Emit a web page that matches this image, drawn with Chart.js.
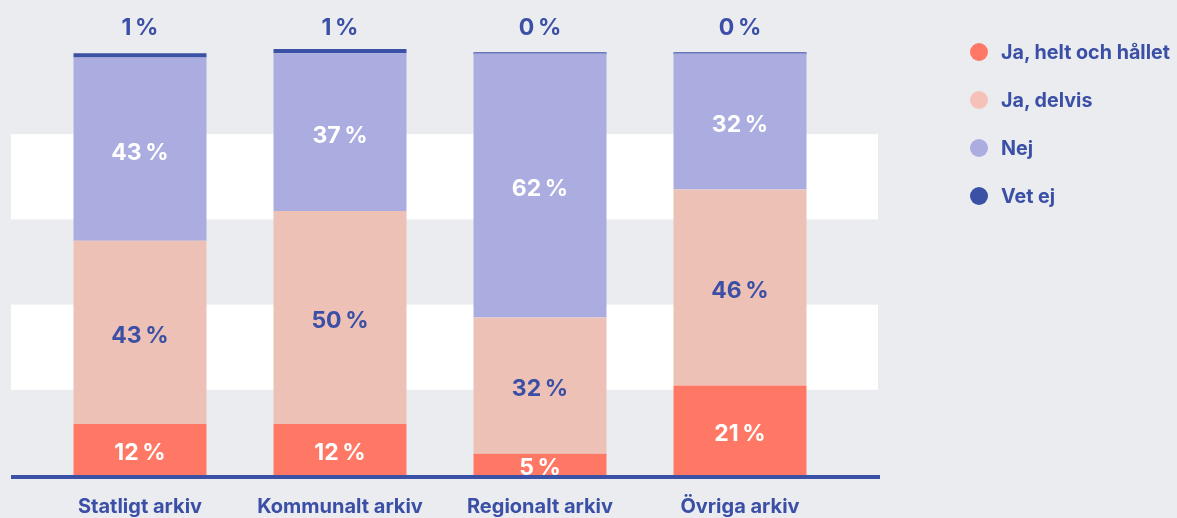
<!DOCTYPE html>
<html>
<head>
<meta charset="utf-8">
<script src="https://cdn.jsdelivr.net/npm/chart.js@4/dist/chart.umd.min.js"></script>
<style>
  html, body { margin: 0; padding: 0; background: #ebecf0; }
  #wrap { position: relative; width: 1177px; height: 518px; }
  #chart { position: absolute; left: 0; top: 0; }
  #legend { position: absolute; left: 970px; top: 41px; margin: 0; padding: 0; list-style: none;
    font-family: Inter, "Noto Sans", sans-serif; font-weight: 700; font-size: 19.7px; color: #3a4fa5; }
  #legend li { height: 48px; display: flex; align-items: flex-start; white-space: nowrap; }
  #legend .dot { width: 18px; height: 18px; border-radius: 50%; margin-right: 13px; margin-top: 2px; flex: none; }
  #legend .txt { line-height: 22px; }
</style>
</head>
<body>
<div id="wrap">
  <canvas id="chart" width="1177" height="518"></canvas>
  <ul id="legend"></ul>
</div>
<script>
(() => {
  const categories = ["Statligt arkiv", "Kommunalt arkiv", "Regionalt arkiv", "Övriga arkiv"];
  const seriesNames = ["Ja, helt och hållet", "Ja, delvis", "Nej", "Vet ej"];
  const jaHelt = [12, 12, 5, 21];
  const jaDelvis = [43, 50, 32, 46];
  const nej = [43, 37, 62, 32];
  const vetEj = [1, 1, 0, 0];
  const bands = [[20, 40], [60, 80]];

  const colors = ["#ff7866", "#edc1b6", "#abacdf", "#3a51a6"];
  const legendColors = ["#ff7866", "#f6c1b8", "#abacdf", "#3a51a6"];
  const labelColors = ["#ffffff", "#3a4fa5", "#ffffff", "#3a4fa5"];
  const textColor = "#3a4fa5";
  const fontFamily = 'Inter, "Noto Sans", sans-serif';

  const legend = document.getElementById("legend");
  seriesNames.forEach((name, i) => {
    const li = document.createElement("li");
    const dot = document.createElement("span");
    dot.className = "dot";
    dot.style.background = legendColors[i];
    const txt = document.createElement("span");
    txt.className = "txt";
    txt.textContent = name;
    li.appendChild(dot);
    li.appendChild(txt);
    legend.appendChild(li);
  });

  const backdrop = {
    id: "backdrop",
    beforeDatasetsDraw(chart) {
      const { ctx, scales: { y } } = chart;
      ctx.save();
      ctx.fillStyle = "#ffffff";
      bands.forEach(([lo, hi]) => {
        const top = y.getPixelForValue(hi);
        const bot = y.getPixelForValue(lo);
        ctx.fillRect(11, top, 867, bot - top);
      });
      ctx.restore();
    },
    afterDatasetsDraw(chart) {
      const { ctx, scales: { y } } = chart;
      ctx.save();
      ctx.fillStyle = "#3a51a6";
      ctx.fillRect(11, y.getPixelForValue(0), 869, 4);

      ctx.font = `700 23px ${fontFamily}`;
      ctx.textAlign = "center";
      ctx.textBaseline = "middle";
      chart.data.datasets.forEach((ds, di) => {
        const meta = chart.getDatasetMeta(di);
        meta.data.forEach((bar, i) => {
          const v = ds.data[i];
          const text = `${Math.round(v)}\u2009%`;
          ctx.fillStyle = labelColors[di];
          if (di === 3) {
            ctx.fillText(text, bar.x, 28);
          } else {
            ctx.fillText(text, bar.x, (bar.y + bar.base) / 2 + 4);
          }
        });
      });
      ctx.restore();
    },
  };

  const data = [jaHelt, jaDelvis, nej, vetEj];

  new Chart(document.getElementById("chart"), {
    type: "bar",
    data: {
      labels: categories,
      datasets: data.map((vals, i) => ({
        label: seriesNames[i],
        data: vals,
        backgroundColor: colors[i],
        borderWidth: 0,
        categoryPercentage: 1,
        barPercentage: 0.665,
        minBarLength: i === 3 ? 2 : 0,
      })),
    },
    options: {
      responsive: false,
      animation: false,
      layout: { padding: { left: 40, right: 337, top: 49, bottom: 1 } },
      plugins: {
        legend: { display: false },
        tooltip: { enabled: false },
      },
      scales: {
        x: {
          stacked: true,
          grid: { display: false },
          border: { display: false },
          ticks: {
            color: textColor,
            padding: 12,
            maxRotation: 0,
            font: { family: fontFamily, weight: "700", size: 20 },
          },
          afterFit(scale) { scale.height = 42; },
        },
        y: {
          stacked: true,
          display: false,
          min: 0,
          max: 100,
        },
      },
    },
    plugins: [backdrop],
  });
})();
</script>
</body>
</html>
